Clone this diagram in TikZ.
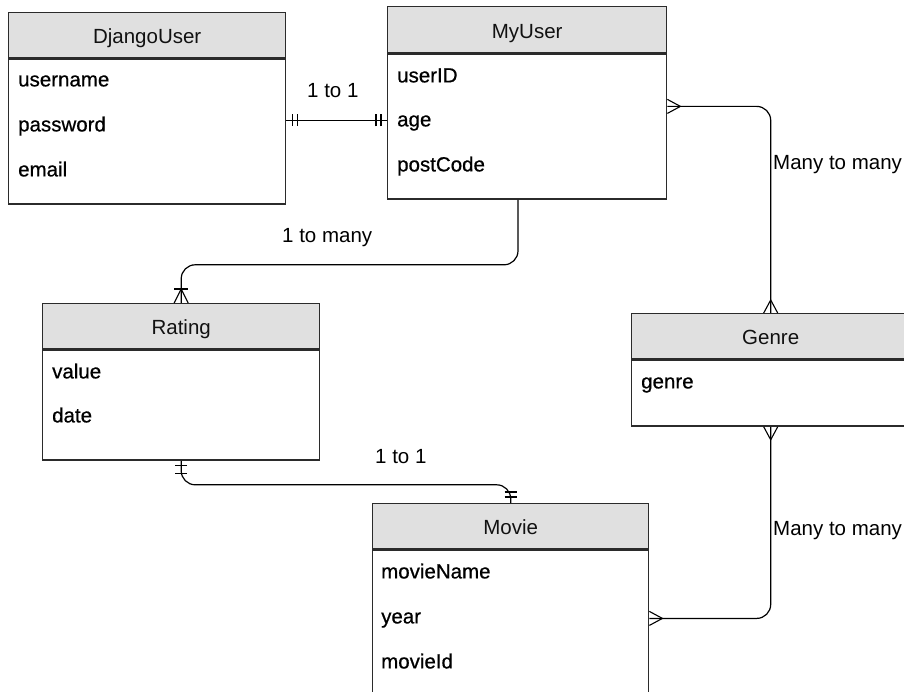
\documentclass[tikz,border=0pt]{standalone}
\usepackage{fontspec}
\setmainfont{Liberation Sans}
\newfontfamily\fieldfamily[FakeBold=0.7]{Liberation Sans}
\usetikzlibrary{calc}

\definecolor{hdrfill}{HTML}{E0E0E0}
\definecolor{boxline}{HTML}{2B2B2B}
\definecolor{txt}{HTML}{111111}

\newcommand{\erfont}{\fontsize{20.5}{24}\selectfont}
\newcommand{\erfieldfont}{\fieldfamily\fontsize{20.5}{24}\selectfont}

\tikzset{
  ent/.style={draw=boxline, line width=1.4pt, rectangle, inner sep=0pt,
              anchor=north west, font=\erfont, text=txt},
  enthead/.style={ent, fill=hdrfill, text height=17pt, text depth=0pt},
  entbody/.style={ent, fill=white},
  field/.style={anchor=base west, inner sep=0pt, font=\erfieldfont, text=black},
  rel/.style={draw=black, line width=1.2pt, rounded corners=14pt},
  rellabel/.style={anchor=base west, inner sep=0pt, font=\erfont, text=black},
  crowlines/.style={draw=black, line width=1.1pt},
  % crow's foot (many), drawn along +x away from the entity edge
  crowmany/.pic={\draw[crowlines] (0,-7) -- (13,0) -- (0,7);},
  % one-or-many: crow's foot with a bar
  crowonemany/.pic={\draw[crowlines] (0,-7) -- (14,0) -- (0,7);
                    \draw[crowlines] (14,-7) -- (14,7);},
  % exactly one: two bars
  onebars/.pic={\draw[crowlines] (6,-6) -- (6,6);
                \draw[crowlines] (11,-6) -- (11,6);},
  onebarswide/.pic={\draw[crowlines] (5,-6) -- (5,6);
                    \draw[crowlines] (13,-6) -- (13,6);}
}

\begin{document}
\begin{tikzpicture}[x=1pt, y=-1pt]
  \useasboundingbox (0,0) rectangle (904,692);
  \fill[white] (0,0) rectangle (904,692);
  \clip (0,0) rectangle (904,692);

  % DjangoUser
  \node[enthead, minimum width=277pt, minimum height=45pt] (djh) at (8,12) {DjangoUser};
  \node[entbody, minimum width=277pt, minimum height=145pt] (djb) at (djh.south west) {};
  \node[field] (dj1) at ($(djb.north west)+(10,28)$) {username};
  \node[field] (dj2) at ($(djb.north west)+(10,73)$) {password};
  \node[field] (dj3) at ($(djb.north west)+(10,118)$) {email};

  % MyUser
  \node[enthead, minimum width=279pt, minimum height=46pt] (myh) at (387,6) {MyUser};
  \node[entbody, minimum width=279pt, minimum height=145pt] (myb) at (myh.south west) {};
  \node[field] (my1) at ($(myb.north west)+(10,29)$) {userID};
  \node[field] (my2) at ($(myb.north west)+(10,73)$) {age};
  \node[field] (my3) at ($(myb.north west)+(10,118)$) {postCode};

  % Rating
  \node[enthead, minimum width=277pt, minimum height=45pt] (rth) at (42,303) {Rating};
  \node[entbody, minimum width=277pt, minimum height=110pt] (rtb) at (rth.south west) {};
  \node[field] (rt1) at ($(rtb.north west)+(10,29)$) {value};
  \node[field] (rt2) at ($(rtb.north west)+(10,73)$) {date};

  % Genre
  \node[enthead, minimum width=278pt, minimum height=45pt] (gnh) at (631,313) {Genre};
  \node[entbody, minimum width=278pt, minimum height=66pt] (gnb) at (gnh.south west) {};
  \node[field] (gn1) at ($(gnb.north west)+(10,29)$) {genre};

  % Movie
  \node[enthead, minimum width=276pt, minimum height=45pt] (mvh) at (372,503) {Movie};
  \node[entbody, minimum width=276pt, minimum height=160pt] (mvb) at (mvh.south west) {};
  \node[field] (mv1) at ($(mvb.north west)+(9,29)$) {movieName};
  \node[field] (mv2) at ($(mvb.north west)+(9,74)$) {year};
  \node[field] (mv3) at ($(mvb.north west)+(9,119)$) {movieId};

  % attachment points on the entity edges
  \coordinate (djR) at ($(djb.north east)+(0,62)$);
  \coordinate (myL) at (djR -| myb.west);
  \coordinate (myR) at ($(myb.north east)+(0,53)$);
  \coordinate (myB) at ($(myb.south west)+(131,0)$);
  \coordinate (mvR) at ($(mvb.north east)+(0,69)$);

  % DjangoUser -- MyUser (1 to 1)
  \draw[rel] (djR) -- (myL);
  \pic at (djR) {onebars};
  \pic[rotate=180] at (myL) {onebars};
  \node[rellabel] (l1) at (307,98) {1 to 1};

  % MyUser -- Genre (many to many)
  \draw[rel] (myR) -| (gnh.north);
  \pic at (myR) {crowmany};
  \pic[rotate=90] at (gnh.north) {crowmany};
  \node[rellabel] (l2) at (773,170) {Many to many};

  % MyUser -- Rating (1 to many)
  \draw[rel] (myB) -- ++(0,65) -| (rth.north);
  \pic[rotate=90] at (rth.north) {crowonemany};
  \node[rellabel] (l3) at (282,243) {1 to many};

  % Rating -- Movie (1 to 1)
  \draw[rel] (rtb.south) -- ++(0,24) -| (mvh.north);
  \pic[rotate=-90] at (rtb.south) {onebarswide};
  \pic[rotate=90] at (mvh.north) {onebars};
  \node[rellabel] (l4) at (375,463) {1 to 1};

  % Genre -- Movie (many to many)
  \draw[rel] (gnb.south) |- (mvR);
  \pic[rotate=-90] at (gnb.south) {crowmany};
  \pic at (mvR) {crowmany};
  \node[rellabel] (l5) at (773,535) {Many to many};
\end{tikzpicture}
\end{document}
